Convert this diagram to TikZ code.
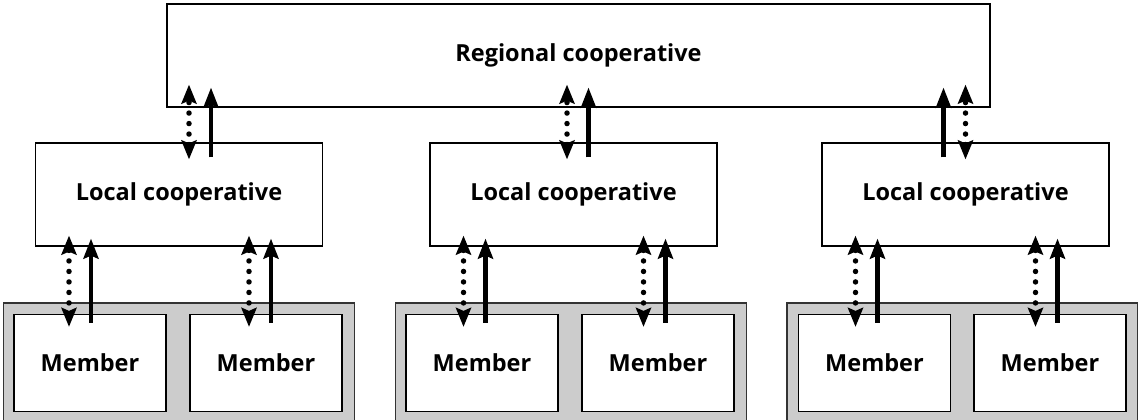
\documentclass[tikz,border=0pt]{standalone}
\usepackage{fontspec}
\setmainfont{Open Sans}
\usetikzlibrary{arrows.meta,calc}

\tikzset{
  box/.style={draw, line width=1.2pt, fill=white, inner sep=0pt,
    font=\bfseries\fontsize{23.5}{27}\selectfont},
  group/.style={draw=black!80, line width=1.2pt, fill=black!20},
  solidarr/.style={line width=4.5pt, -{Stealth[length=20pt,width=15pt,inset=3pt]}},
  dotarr/.style={line width=5.5pt, line cap=round, dash pattern=on 0pt off 10.5pt,
    {Stealth[length=19pt,width=15pt,inset=3pt]}-{Stealth[length=19pt,width=15pt,inset=3pt]}}
}

\begin{document}
\begin{tikzpicture}[x=1pt, y=-1pt]
\useasboundingbox (0, 0) rectangle (1138, 420);
\node[box, minimum width=823pt, minimum height=103pt] (reg) at (578.5, 55.5) {Regional cooperative};
\foreach \i/\cx/\gx/\ma/\mb in {1/179/179/90/266, 2/573.5/571/482/658, 3/965.5/962.5/874.5/1050}
  {\node[box, minimum width=287pt, minimum height=103pt] (loc\i) at (\cx, 194.5) {Local cooperative};
   \node[group, minimum width=351pt, minimum height=125pt] (grp\i) at (\gx, 365.5) {};
   \node[box, minimum width=152pt, minimum height=97pt] (mem\i a) at (\ma, 363) {Member};
   \node[box, minimum width=152pt, minimum height=97pt] (mem\i b) at (\mb, 363) {Member};
   \foreach \dx/\m in {-110/a, 70/b}
     {\draw[dotarr] ($(loc\i.south)+(\dx,-11)$) -- ($(loc\i.south |- mem\i\m.north)+(\dx,13)$);
      \draw[solidarr] ($(loc\i.south |- mem\i\m.north)+(\dx+22,9)$) -- ($(loc\i.south)+(\dx+22,-8)$);};};
% links to the regional level
\foreach \i/\dx/\sx in {1/10/32, 2/-6.5/15, 3/0/-22}
  {\draw[dotarr] ($(loc\i.north)+(\dx,17)$) -- ($(reg.south -| loc\i.north)+(\dx,-23)$);
   \draw[solidarr] ($(loc\i.north)+(\sx,15)$) -- ($(reg.south -| loc\i.north)+(\sx,-20)$);};
\end{tikzpicture}
\end{document}
